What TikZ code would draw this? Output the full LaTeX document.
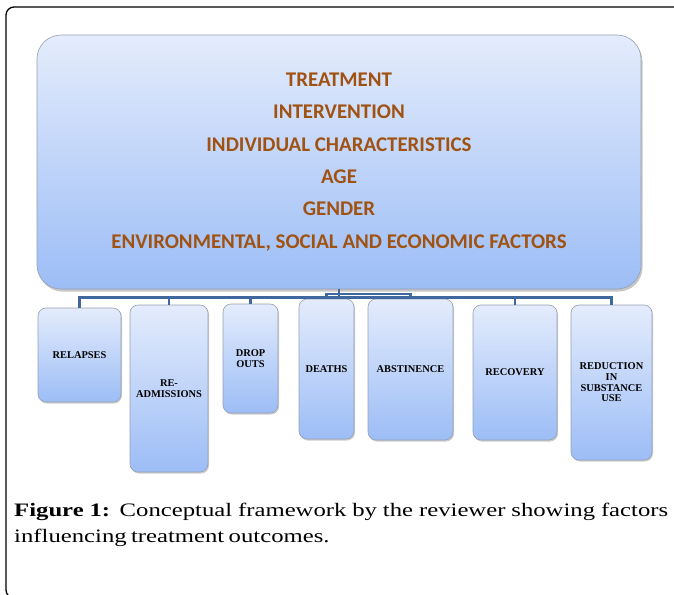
\documentclass[tikz,border=0pt]{standalone}
\usepackage{fontspec}
\setmainfont{Liberation Serif}
\newfontfamily\headfont{Carlito}
\newfontfamily\capfont[FakeStretch=1.3]{Liberation Serif}
\usetikzlibrary{shadows}

\definecolor{boxtop}{RGB}{228,236,252}
\definecolor{boxbot}{RGB}{156,189,246}
\definecolor{boxedge}{RGB}{150,160,178}
\definecolor{headtext}{RGB}{160,82,18}
\definecolor{linkblue}{RGB}{62,104,158}

\tikzset{
  factorbox/.style={draw=boxedge, line width=0.6pt, rounded corners=24pt,
    top color=boxtop, bottom color=boxbot, inner sep=0pt, align=center,
    text=headtext, font={\headfont\bfseries\fontsize{20.9pt}{32.4pt}\selectfont},
    drop shadow={shadow xshift=1.5pt, shadow yshift=-2.5pt, fill=black!50, opacity=0.45}},
  outcomebox/.style={draw=boxedge, line width=0.6pt, rounded corners=8pt,
    top color=boxtop, bottom color=boxbot, inner sep=0pt, align=center,
    font={\bfseries\fontsize{10.4pt}{10.7pt}\selectfont},
    drop shadow={shadow xshift=1pt, shadow yshift=-1.5pt, fill=black!50, opacity=0.4}},
  link/.style={draw=linkblue, line width=2.3pt}
}

\begin{document}
\begin{tikzpicture}[x=1pt, y=-1pt]
\useasboundingbox (0,0) rectangle (674,594);
\clip (0,0) rectangle (674,594);

% outer frame
\draw[line width=1.3pt, rounded corners=8pt] (6,7) rectangle (700,598);

% influencing factors
\node[factorbox, minimum width=604pt, minimum height=254pt] (main) at (339,162)
  {TREATMENT\\INTERVENTION\\INDIVIDUAL CHARACTERISTICS\\AGE\\GENDER\\ENVIRONMENTAL, SOCIAL AND ECONOMIC FACTORS};

% outcomes
\node[outcomebox, minimum width=83pt, minimum height=94pt]  (rel)    at (79.5,355)   {RELAPSES};
\node[outcomebox, minimum width=78pt, minimum height=167pt] (readm)  at (169,388.5)  {RE-\\ADMISSIONS};
\node[outcomebox, minimum width=55pt, minimum height=109pt] (drop)   at (250.5,358.5){DROP\\OUTS};
\node[outcomebox, minimum width=55pt, minimum height=140pt] (deaths) at (326.5,369)  {DEATHS};
\node[outcomebox, minimum width=85pt, minimum height=141pt] (abst)   at (410.5,369.5){ABSTINENCE};
\node[outcomebox, minimum width=84pt, minimum height=135pt] (recov)  at (515,372.5)  {RECOVERY};
\node[outcomebox, minimum width=81pt, minimum height=155pt] (reduc)  at (611.5,382.5){REDUCTION\\IN\\SUBSTANCE\\USE};

% bus levels of the tree
\coordinate (near) at (0,294);
\coordinate (far)  at (0,297.5);

\foreach \c in {deaths,abst}
  \draw[link] (main.south) |- (\c.north |- near) -- (\c.north);
\foreach \c in {rel,readm,drop,recov,reduc}
  \draw[link] (main.south) |- (\c.north |- far) -- (\c.north);

% caption
\node[anchor=north west, inner sep=0pt, text width=654pt, align=justify,
      font={\capfont\fontsize{19pt}{26pt}\selectfont}] (cap) at (14,503)
  {\spaceskip=0.23em plus 1em minus 0.03em
   \textbf{Figure 1:} Conceptual framework by the reviewer showing factors\linebreak
   influencing treatment outcomes.};
\end{tikzpicture}
\end{document}
